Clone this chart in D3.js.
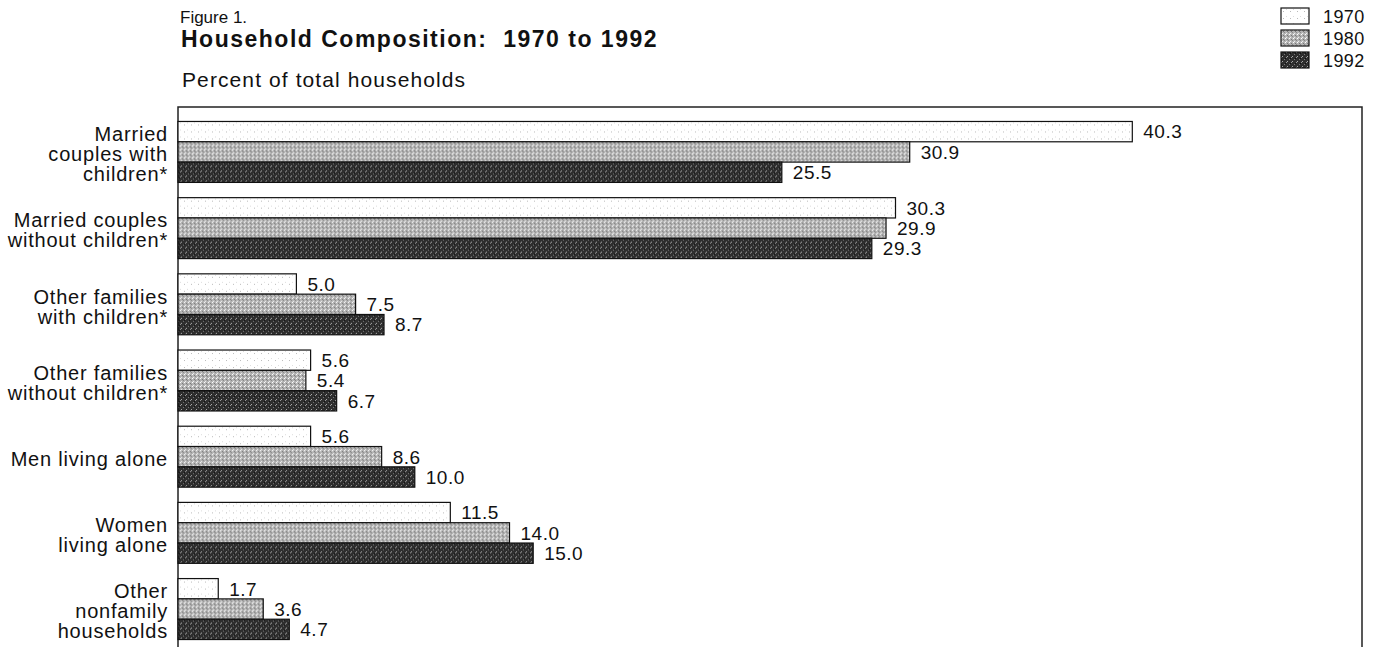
<!DOCTYPE html>
<html>
<head>
<meta charset="utf-8">
<script src="https://cdn.jsdelivr.net/npm/d3@7/dist/d3.min.js"></script>
<style>
  body { margin: 0; background: #fff; }
  svg text { font-family: "Liberation Sans", Arial, Helvetica, sans-serif; fill: #111; }
</style>
</head>
<body>
<div id="chart"></div>
<script>
// Données : part des ménages (%) par type, 1970 / 1980 / 1992
const categories = [
  ["Married", "couples with", "children*"],
  ["Married couples", "without children*"],
  ["Other families", "with children*"],
  ["Other families", "without children*"],
  ["Men living alone"],
  ["Women", "living alone"],
  ["Other", "nonfamily", "households"]
];
const years = ["1970", "1980", "1992"];
const values1970 = [40.3, 30.3, 5.0, 5.6, 5.6, 11.5, 1.7];
const values1980 = [30.9, 29.9, 7.5, 5.4, 8.6, 14.0, 3.6];
const values1992 = [25.5, 29.3, 8.7, 6.7, 10.0, 15.0, 4.7];
const seriesValues = [values1970, values1980, values1992];

const W = 1380, H = 647;
const frame = { left: 178, top: 107, right: 1362 };
const fills = { "1970": "url(#p1970)", "1980": "url(#p1980)", "1992": "url(#p1992)" };

const svg = d3.select("#chart").append("svg")
  .attr("width", W)
  .attr("height", H);

// Motifs pointillés pour imiter la trame d'impression
const defs = svg.append("defs");
function stipple(id, base, dots, size) {
  const p = defs.append("pattern")
    .attr("id", id)
    .attr("patternUnits", "userSpaceOnUse")
    .attr("width", size).attr("height", size);
  p.append("rect").attr("width", size).attr("height", size).attr("fill", base);
  dots.forEach(([x, y, c]) => {
    p.append("rect").attr("x", x).attr("y", y).attr("width", 1).attr("height", 1).attr("fill", c);
  });
}
stipple("p1970", "#ffffff", [[2, 3, "#bbb"], [5, 1, "#ddd"]], 7);
stipple("p1980", "#b4b4b4", [[0, 0, "#fff"], [2, 1, "#777"], [1, 3, "#eee"], [3, 2, "#888"]], 4);
stipple("p1992", "#2e2e2e", [[0, 0, "#999"], [3, 2, "#777"], [1, 4, "#aaa"], [4, 1, "#111"]], 5);

const x = d3.scaleLinear().domain([0, 50]).range([frame.left, frame.right]);

const y0 = d3.scaleBand()
  .domain(d3.range(categories.length))
  .range([frame.top, frame.top + 547])
  .paddingInner(0.2)
  .paddingOuter(0.19);

const y1 = d3.scaleBand()
  .domain(years)
  .range([0, y0.bandwidth()]);

// Titre
svg.append("text")
  .attr("x", 180).attr("y", 23)
  .style("font-size", "17px")
  .text("Figure 1.");

svg.append("text")
  .attr("x", 181).attr("y", 47)
  .style("font-size", "23px")
  .style("font-weight", "bold")
  .style("letter-spacing", "1.5px")
  .text("Household Composition:\u00a0 1970 to 1992");

svg.append("text")
  .attr("x", 182).attr("y", 87)
  .style("font-size", "21px")
  .style("letter-spacing", "1.1px")
  .text("Percent of total households");

// Cadre (ouvert en bas)
svg.append("path")
  .attr("d", `M${frame.left},${H + 2}V${frame.top}H${frame.right}V${H + 2}`)
  .attr("fill", "none")
  .attr("stroke", "#222")
  .attr("stroke-width", 1.5);

// Barres
const rows = categories.map((c, i) => ({
  i,
  bars: years.map((yr, k) => ({ year: yr, value: seriesValues[k][i] }))
}));

const group = svg.append("g").selectAll("g")
  .data(rows)
  .enter().append("g")
  .attr("transform", d => `translate(0,${y0(d.i)})`);

group.selectAll("rect")
  .data(d => d.bars)
  .enter().append("rect")
  .attr("x", x(0))
  .attr("y", d => y1(d.year))
  .attr("width", d => x(d.value) - x(0))
  .attr("height", y1.bandwidth())
  .attr("fill", d => fills[d.year])
  .attr("stroke", "#111")
  .attr("stroke-width", 1.2);

group.selectAll("text.val")
  .data(d => d.bars)
  .enter().append("text")
  .attr("class", "val")
  .attr("x", d => x(d.value) + 11)
  .attr("y", d => y1(d.year) + y1.bandwidth() / 2)
  .attr("dy", "0.36em")
  .style("font-size", "19px")
  .style("letter-spacing", "0.5px")
  .text(d => d.value.toFixed(1));

// Libellés des catégories
const lineH = 20;
svg.append("g").selectAll("text")
  .data(rows)
  .enter().append("text")
  .attr("text-anchor", "end")
  .style("font-size", "20px")
  .style("letter-spacing", "0.8px")
  .each(function(d) {
    const lines = categories[d.i];
    const cy = y0(d.i) + y0.bandwidth() / 2 + 2;
    const first = cy - (lines.length - 1) * lineH / 2;
    d3.select(this).selectAll("tspan")
      .data(lines)
      .enter().append("tspan")
      .attr("x", 168)
      .attr("y", (l, j) => first + j * lineH)
      .attr("dy", "0.36em")
      .text(l => l);
  });

// Légende
const legend = svg.append("g").selectAll("g")
  .data(years)
  .enter().append("g")
  .attr("transform", (d, k) => `translate(1281,${8 + k * 22})`);

legend.append("rect")
  .attr("width", 28)
  .attr("height", 16)
  .attr("fill", d => fills[d])
  .attr("stroke", "#111")
  .attr("stroke-width", 1.2);

legend.append("text")
  .attr("x", 42)
  .attr("y", 15)
  .style("font-size", "18px")
  .style("letter-spacing", "0.4px")
  .text(d => d);
</script>
</body>
</html>
